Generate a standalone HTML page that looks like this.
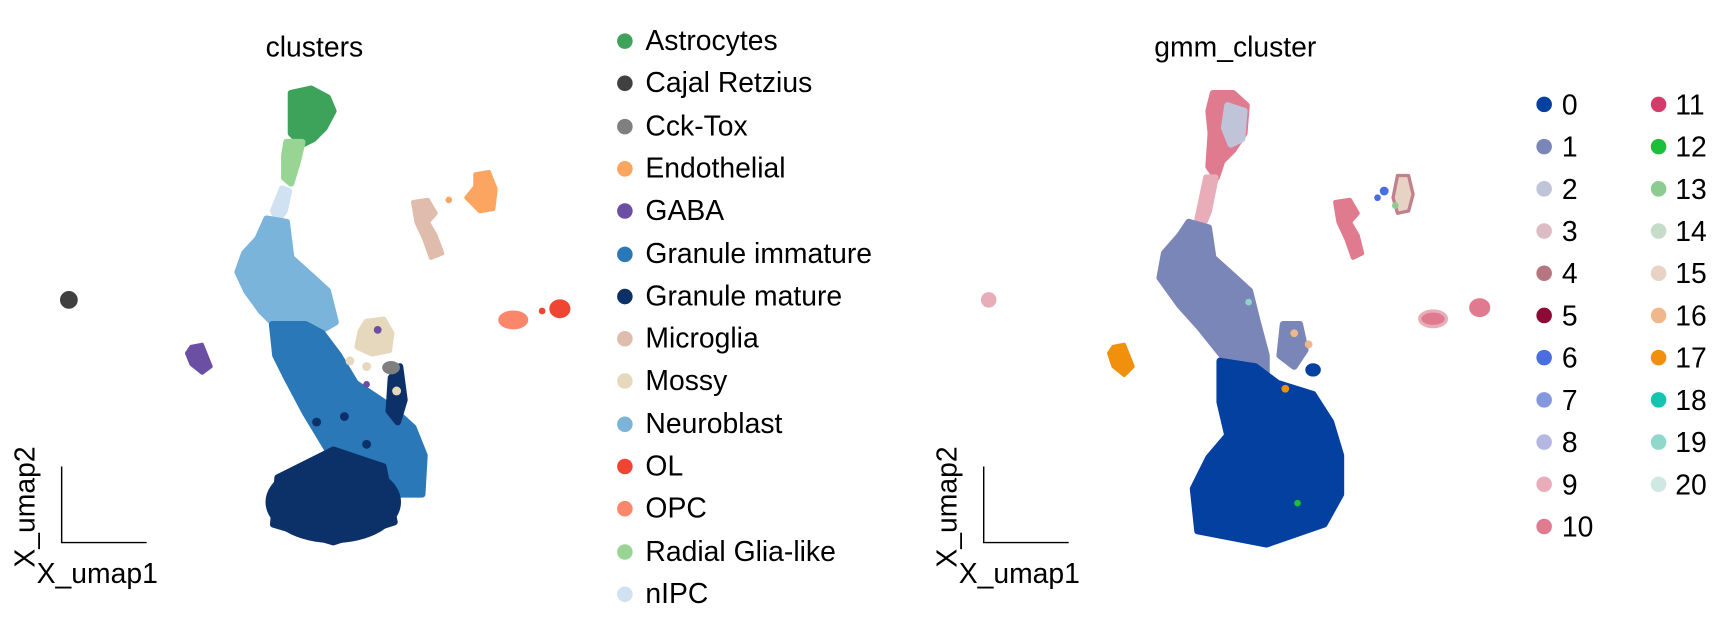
<!DOCTYPE html>
<html><head><meta charset="utf-8"><style>
html,body{margin:0;padding:0;background:#fff;}
svg{display:block;}
text{font-family:"Liberation Sans",sans-serif;fill:#000;}
</style></head><body>
<svg width="1733" height="632" viewBox="0 0 1560 569" preserveAspectRatio="none" xmlns="http://www.w3.org/2000/svg">
<text x="283" y="51" font-size="25.5" text-anchor="middle">clusters</text>
<g stroke-linejoin="round" stroke-width="6">
<path d="M262,84 L280,80 L295,88 L300,100 L292,115 L282,125 L272,130 L262,120 L262,100 Z" fill="#3da35a" stroke="#3da35a"/>
<path d="M258,128 L272,128 L268,145 L262,165 L256,160 L256,140 Z" fill="#98d594" stroke="#98d594"/>
<path d="M254,170 L260,172 L256,190 L250,198 L246,190 Z" fill="#d0e1f2" stroke="#d0e1f2"/>
<path d="M240,197 L258,200 L262,232 L282,250 L295,262 L302,290 L285,300 L270,300 L250,295 L235,280 L222,262 L214,245 L220,228 L232,215 Z" fill="#7ab4da" stroke="#7ab4da"/>
<path d="M245,292 L275,292 L290,300 L305,320 L320,345 L350,365 L372,385 L382,410 L380,445 L350,445 L320,425 L295,405 L275,372 L258,340 L248,320 Z" fill="#2a78b8" stroke="#2a78b8"/>
<ellipse cx="300" cy="452" rx="58" ry="34" fill="#0c3168" stroke="#0c3168"/>
<path d="M250,430 L300,405 L345,420 L355,470 L300,488 L246,472 Z" fill="#0c3168" stroke="#0c3168"/>
<path d="M352,340 L360,330 L364,360 L358,380 L350,370 Z" fill="#0c3168" stroke="#0c3168"/>
<circle cx="310" cy="375" r="4" fill="#0c3168"/><circle cx="330" cy="400" r="4" fill="#0c3168"/><circle cx="285" cy="380" r="4" fill="#0c3168"/>
<path d="M330,290 L345,288 L352,300 L350,315 L335,318 L322,312 L325,298 Z" fill="#e6d8bc" stroke="#e6d8bc"/>
<circle cx="315" cy="325" r="4" fill="#e6d8bc"/><circle cx="330" cy="330" r="4" fill="#e6d8bc"/><circle cx="357" cy="352" r="4" fill="#e6d8bc"/>
<circle cx="340" cy="297" r="3.5" fill="#6a4fa3"/><circle cx="330" cy="346" r="3" fill="#6a4fa3"/>
<ellipse cx="352" cy="331" rx="8" ry="6" fill="#7f7f7f"/>
<ellipse cx="62" cy="270" rx="7" ry="7" fill="#404040" stroke="#404040" stroke-width="2"/>
<path d="M172,312 L182,310 L186,320 L190,330 L182,336 L172,328 L168,318 Z" fill="#6a4fa3" stroke="#6a4fa3" stroke-width="3"/>
<path d="M372,182 L385,180 L392,192 L385,200 L392,212 L398,228 L388,232 L382,215 L375,200 Z" fill="#e0bcac" stroke="#e0bcac" stroke-width="4"/>
<path d="M428,157 L440,155 L446,170 L444,188 L432,190 L420,178 L428,168 Z" fill="#fca560" stroke="#fca560" stroke-width="4"/>
<circle cx="404" cy="180" r="3" fill="#fca560"/>
<ellipse cx="462" cy="288" rx="12" ry="7" fill="#fb876a" stroke="#fb876a" stroke-width="3"/>
<ellipse cx="504" cy="278" rx="8" ry="7" fill="#ef4532" stroke="#ef4532" stroke-width="3"/>
<circle cx="488" cy="280" r="3" fill="#ef4532"/>
</g>
<path d="M55.5,420 V488.5 H132" fill="none" stroke="#000" stroke-width="1.3"/>
<text x="31" y="511" font-size="25.5" transform="rotate(-90 31 511)">X_umap2</text>
<text x="33" y="525" font-size="25.5">X_umap1</text>
<g font-size="25.5">
<circle cx="562.5" cy="37" r="7" fill="#3da35a"/><text x="581" y="45">Astrocytes</text>
<circle cx="562.5" cy="75" r="7" fill="#404040"/><text x="581" y="83">Cajal Retzius</text>
<circle cx="562.5" cy="114" r="7" fill="#7f7f7f"/><text x="581" y="122">Cck-Tox</text>
<circle cx="562.5" cy="152" r="7" fill="#fca560"/><text x="581" y="160">Endothelial</text>
<circle cx="562.5" cy="190" r="7" fill="#6a4fa3"/><text x="581" y="198">GABA</text>
<circle cx="562.5" cy="229" r="7" fill="#2a78b8"/><text x="581" y="237">Granule immature</text>
<circle cx="562.5" cy="267" r="7" fill="#0c3168"/><text x="581" y="275">Granule mature</text>
<circle cx="562.5" cy="305" r="7" fill="#e0bcac"/><text x="581" y="313">Microglia</text>
<circle cx="562.5" cy="343" r="7" fill="#e6d8bc"/><text x="581" y="351">Mossy</text>
<circle cx="562.5" cy="382" r="7" fill="#7ab4da"/><text x="581" y="390">Neuroblast</text>
<circle cx="562.5" cy="420" r="7" fill="#ef4532"/><text x="581" y="428">OL</text>
<circle cx="562.5" cy="458" r="7" fill="#fb876a"/><text x="581" y="466">OPC</text>
<circle cx="562.5" cy="497" r="7" fill="#98d594"/><text x="581" y="505">Radial Glia-like</text>
<circle cx="562.5" cy="535" r="7" fill="#d0e1f2"/><text x="581" y="543">nIPC</text>
</g>

<text x="1112" y="51" font-size="25.5" text-anchor="middle">gmm_cluster</text>
<g stroke-linejoin="round" stroke-width="6">
<path d="M1092,84 L1110,84 L1122,95 L1120,120 L1110,135 L1100,145 L1095,160 L1088,150 L1090,120 L1088,100 Z" fill="#e07a8e" stroke="#e07a8e"/>
<path d="M1105,95 L1120,100 L1118,125 L1108,130 L1102,115 Z" fill="#c0c4d8" stroke="#c0c4d8"/>
<path d="M1086,160 L1094,160 L1088,190 L1082,205 L1078,198 Z" fill="#e8adb8" stroke="#e8adb8"/>
<path d="M1070,200 L1088,205 L1092,232 L1112,250 L1125,262 L1132,290 L1140,320 L1140,345 L1115,345 L1100,320 L1080,295 L1062,275 L1044,250 L1048,228 L1062,212 Z" fill="#7b86b8" stroke="#7b86b8"/>
<path d="M1155,292 L1170,292 L1175,315 L1165,330 L1152,320 Z" fill="#7b86b8" stroke="#7b86b8"/>
<path d="M1098,325 L1130,330 L1150,345 L1182,355 L1198,380 L1207,410 L1207,445 L1192,472 L1140,490 L1078,478 L1074,440 L1088,412 L1105,392 L1098,362 Z" fill="#0340a0" stroke="#0340a0"/>
<ellipse cx="1132" cy="455" rx="58" ry="32" fill="#0340a0"/>
<ellipse cx="1182" cy="333" rx="7" ry="6" fill="#0340a0"/>
<circle cx="1157" cy="350" r="3.5" fill="#f0900c"/>
<circle cx="1168" cy="453" r="3" fill="#1ac03a"/>
<circle cx="1124" cy="272" r="3" fill="#8fd4c8"/>
<circle cx="1165" cy="300" r="3.5" fill="#f0b88a"/><circle cx="1178" cy="310" r="3.5" fill="#f0b88a"/>
<ellipse cx="890" cy="270" rx="6" ry="6" fill="#e8adb8" stroke="#e8adb8" stroke-width="2"/>
<path d="M1002,312 L1012,310 L1016,320 L1020,330 L1012,338 L1002,330 L998,318 Z" fill="#f0900c" stroke="#f0900c" stroke-width="3"/>
<path d="M1202,182 L1215,180 L1222,192 L1215,200 L1222,212 L1226,228 L1218,232 L1212,215 L1205,200 Z" fill="#e07a8e" stroke="#e07a8e" stroke-width="4"/>
<path d="M1258,158 L1268,158 L1272,175 L1268,190 L1258,192 L1254,178 Z" fill="#e8d2c4" stroke="#c0808c" stroke-width="3"/>
<circle cx="1246" cy="172" r="4" fill="#4a6ee0"/><circle cx="1240" cy="178" r="3" fill="#4a6ee0"/>
<circle cx="1256" cy="185" r="3" fill="#8ccc90"/>
<ellipse cx="1290" cy="287" rx="12" ry="7" fill="#e07a8e" stroke="#e8adb8" stroke-width="3"/>
<ellipse cx="1332" cy="277" rx="8" ry="7" fill="#e07a8e" stroke="#e07a8e" stroke-width="3"/>
</g>
<path d="M885.5,420 V488.5 H962" fill="none" stroke="#000" stroke-width="1.3"/>
<text x="861" y="511" font-size="25.5" transform="rotate(-90 861 511)">X_umap2</text>
<text x="863" y="525" font-size="25.5">X_umap1</text>
<g font-size="25.5">
<circle cx="1390" cy="94" r="7" fill="#0340a0"/><text x="1406" y="103">0</text>
<circle cx="1390" cy="132" r="7" fill="#7b86b8"/><text x="1406" y="141">1</text>
<circle cx="1390" cy="170" r="7" fill="#c0c4d8"/><text x="1406" y="179">2</text>
<circle cx="1390" cy="208" r="7" fill="#dcbcc4"/><text x="1406" y="217">3</text>
<circle cx="1390" cy="246" r="7" fill="#b77580"/><text x="1406" y="255">4</text>
<circle cx="1390" cy="284" r="7" fill="#8c0a35"/><text x="1406" y="293">5</text>
<circle cx="1390" cy="322" r="7" fill="#4a6ee0"/><text x="1406" y="331">6</text>
<circle cx="1390" cy="360" r="7" fill="#8498e0"/><text x="1406" y="369">7</text>
<circle cx="1390" cy="398" r="7" fill="#b4b8e0"/><text x="1406" y="407">8</text>
<circle cx="1390" cy="436" r="7" fill="#e8adb8"/><text x="1406" y="445">9</text>
<circle cx="1390" cy="474" r="7" fill="#e07a8e"/><text x="1406" y="483">10</text>
<circle cx="1493" cy="94" r="7" fill="#d33c6a"/><text x="1508" y="103">11</text>
<circle cx="1493" cy="132" r="7" fill="#1ac03a"/><text x="1508" y="141">12</text>
<circle cx="1493" cy="170" r="7" fill="#8ccc90"/><text x="1508" y="179">13</text>
<circle cx="1493" cy="208" r="7" fill="#c4dcc8"/><text x="1508" y="217">14</text>
<circle cx="1493" cy="246" r="7" fill="#e8d2c4"/><text x="1508" y="255">15</text>
<circle cx="1493" cy="284" r="7" fill="#f0b88a"/><text x="1508" y="293">16</text>
<circle cx="1493" cy="322" r="7" fill="#f0900c"/><text x="1508" y="331">17</text>
<circle cx="1493" cy="360" r="7" fill="#14c4b0"/><text x="1508" y="369">18</text>
<circle cx="1493" cy="398" r="7" fill="#90d8cc"/><text x="1508" y="407">19</text>
<circle cx="1493" cy="436" r="7" fill="#d0e8e4"/><text x="1508" y="445">20</text>
</g>
</svg>
</body></html>
